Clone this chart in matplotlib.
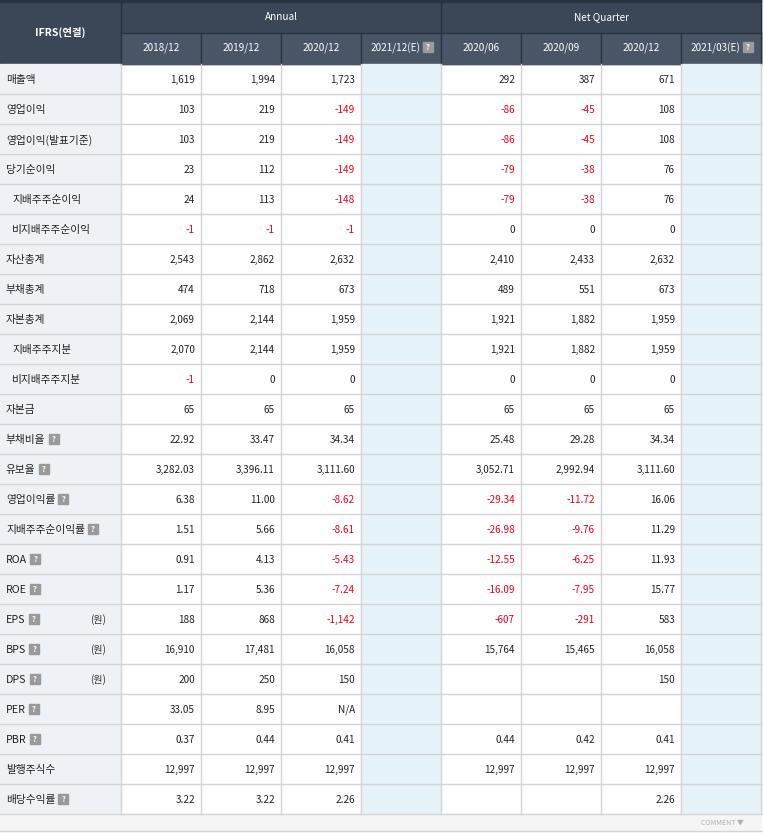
import matplotlib.pyplot as plt
from matplotlib import font_manager
from matplotlib.patches import Rectangle

cjk = [f.name for f in font_manager.fontManager.ttflist if "CJK" in f.name]
kr = [n for n in cjk if "KR" in n] or cjk
plt.rcParams["font.family"] = "sans-serif"
plt.rcParams["font.sans-serif"] = kr[:1] + ["DejaVu Sans"]

labels = ["매출액", "영업이익", "영업이익(발표기준)", "당기순이익", " 지배주주순이익", " 비지배주주순이익",
          "자산총계", "부채총계", "자본총계", " 지배주주지분", " 비지배주주지분", "자본금",
          "부채비율", "유보율", "영업이익률", "지배주주순이익률", "ROA", "ROE", "EPS", "BPS", "DPS",
          "PER", "PBR", "발행주식수", "배당수익률"]
has_icon = [False]*12 + [True]*11 + [False, True]
units = [""]*18 + ["(원)", "(원)", "(원)"] + [""]*4

annual_cols = ["2018/12", "2019/12", "2020/12", "2021/12(E)"]
quarter_cols = ["2020/06", "2020/09", "2020/12", "2021/03(E)"]

annual = [
    ["1,619", "1,994", "1,723", ""], ["103", "219", "-149", ""], ["103", "219", "-149", ""],
    ["23", "112", "-149", ""], ["24", "113", "-148", ""], ["-1", "-1", "-1", ""],
    ["2,543", "2,862", "2,632", ""], ["474", "718", "673", ""], ["2,069", "2,144", "1,959", ""],
    ["2,070", "2,144", "1,959", ""], ["-1", "0", "0", ""], ["65", "65", "65", ""],
    ["22.92", "33.47", "34.34", ""], ["3,282.03", "3,396.11", "3,111.60", ""],
    ["6.38", "11.00", "-8.62", ""], ["1.51", "5.66", "-8.61", ""], ["0.91", "4.13", "-5.43", ""],
    ["1.17", "5.36", "-7.24", ""], ["188", "868", "-1,142", ""], ["16,910", "17,481", "16,058", ""],
    ["200", "250", "150", ""], ["33.05", "8.95", "N/A", ""], ["0.37", "0.44", "0.41", ""],
    ["12,997", "12,997", "12,997", ""], ["3.22", "3.22", "2.26", ""],
]
quarter = [
    ["292", "387", "671", ""], ["-86", "-45", "108", ""], ["-86", "-45", "108", ""],
    ["-79", "-38", "76", ""], ["-79", "-38", "76", ""], ["0", "0", "0", ""],
    ["2,410", "2,433", "2,632", ""], ["489", "551", "673", ""], ["1,921", "1,882", "1,959", ""],
    ["1,921", "1,882", "1,959", ""], ["0", "0", "0", ""], ["65", "65", "65", ""],
    ["25.48", "29.28", "34.34", ""], ["3,052.71", "2,992.94", "3,111.60", ""],
    ["-29.34", "-11.72", "16.06", ""], ["-26.98", "-9.76", "11.29", ""], ["-12.55", "-6.25", "11.93", ""],
    ["-16.09", "-7.95", "15.77", ""], ["-607", "-291", "583", ""], ["15,764", "15,465", "16,058", ""],
    ["", "", "150", ""], ["", "", "", ""], ["0.44", "0.42", "0.41", ""],
    ["12,997", "12,997", "12,997", ""], ["", "", "2.26", ""],
]

W, H = 764, 833
fig = plt.figure(figsize=(W/100, H/100), dpi=100)
ax = fig.add_axes([0, 0, 1, 1])
ax.set_xlim(0, W)
ax.set_ylim(H, 0)
ax.axis("off")

xs = [0, 121, 201, 281, 361, 441, 521, 601, 681, 761]
h1, h2, y0, rh = 33, 64, 64, 30
fs = 7.2
grid = "#d4d4d4"

def icon(x, yc):
    ax.add_patch(Rectangle((x, yc - 5), 10, 10, color="#9a9a9a", zorder=3))
    ax.text(x + 5, yc, "?", color="white", fontsize=5.5, ha="center", va="center", zorder=4, fontweight="bold")

# header
ax.add_patch(Rectangle((0, 0), xs[-1], h2, color="#3b4757"))
ax.add_patch(Rectangle((xs[1], h1), xs[-1] - xs[1], h2 - h1, color="#4a5667"))
ax.add_patch(Rectangle((0, 0), xs[-1], 2, color="#2a3340"))
for x in xs[1:]:
    ax.plot([x, x], [0 if x in (121, 441, 761) else h1, h2], color="#28303c", lw=1)
ax.plot([xs[1], xs[-1]], [h1, h1], color="#28303c", lw=1)
ax.text(60, 32, "IFRS(연결)", color="white", fontsize=7.5, fontweight="bold", ha="center", va="center")
ax.text(281, 17, "Annual", color="white", fontsize=7.2, ha="center", va="center")
ax.text(601, 17, "Net Quarter", color="white", fontsize=7.2, ha="center", va="center")
for i, c in enumerate(annual_cols + quarter_cols):
    xc = (xs[i+1] + xs[i+2]) / 2
    if "(E)" in c:
        ax.text(xc - 6, 48, c, color="white", fontsize=fs, ha="center", va="center")
        icon(xc + 22, 47)
    else:
        ax.text(xc, 48, c, color="white", fontsize=fs, ha="center", va="center")

# body
nrows = len(labels)
ax.add_patch(Rectangle((0, y0), xs[1], nrows*rh, color="#eef1f6"))
ax.add_patch(Rectangle((xs[4], y0), 80, nrows*rh, color="#e6f4fa"))
ax.add_patch(Rectangle((xs[8], y0), 80, nrows*rh, color="#e6f4fa"))
fig.canvas.draw()
for r in range(nrows):
    yc = y0 + r*rh + rh/2 + 1
    ax.plot([0, xs[-1]], [y0 + (r+1)*rh, y0 + (r+1)*rh], color=grid, lw=1)
    lab = labels[r]
    x0 = 12 if lab.startswith(" ") else 6
    t = ax.text(x0, yc, lab.strip(), fontsize=fs+0.5, ha="left", va="center", color="#222222")
    if has_icon[r]:
        bb = t.get_window_extent(renderer=fig.canvas.get_renderer())
        icon(bb.x1 + 3, yc - 1)
    if units[r]:
        ax.text(98, yc, units[r], fontsize=fs, ha="center", va="center", color="#333333")
    vals = annual[r] + quarter[r]
    for i, v in enumerate(vals):
        col = "#e8001c" if v.startswith("-") else "#222222"
        ax.text(xs[i+2] - 6, yc, v, fontsize=fs, ha="right", va="center", color=col)
for x in xs[1:]:
    ax.plot([x, x], [y0, y0 + nrows*rh], color=grid, lw=1)

# footer
yb = y0 + nrows*rh
ax.add_patch(Rectangle((0, yb), xs[-1], H - yb - 2, color="#f5f5f5"))
ax.plot([0, xs[-1]], [H - 2, H - 2], color=grid, lw=1)
ax.text(744, yb + 9, "COMMENT ▼", fontsize=5, color="#b0b0b0", ha="right", va="center")

fig.savefig("out.png", dpi=100)
